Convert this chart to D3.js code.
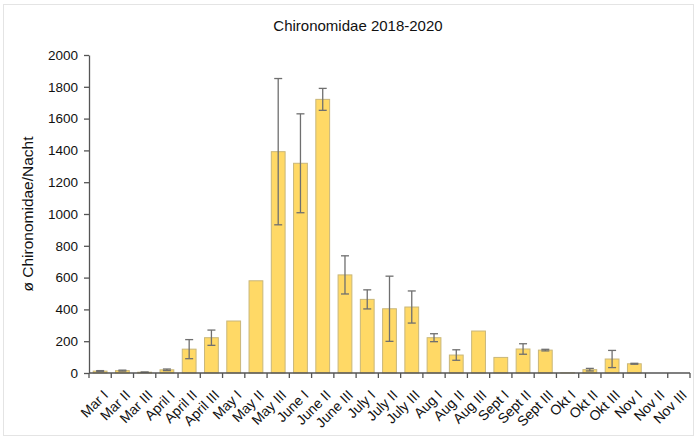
<!DOCTYPE html>
<html>
<head>
<meta charset="utf-8">
<script src="https://cdn.jsdelivr.net/npm/d3@7"></script>
<style>
  body { margin: 0; background: #fff; }
  svg { font-family: "Liberation Sans", Arial, sans-serif; }
</style>
</head>
<body>
<div id="chart"></div>
<script>
/* DATA */
const categories = ["Mar I", "Mar II", "Mar III", "April I", "April II", "April III",
  "May I", "May II", "May III", "June I", "June II", "June III",
  "July I", "July II", "July III", "Aug I", "Aug II", "Aug III",
  "Sept I", "Sept II", "Sept III", "Okt I", "Okt II", "Okt III",
  "Nov I", "Nov II", "Nov III"];
const means = [12, 15, 5, 20, 150, 222, 327, 580, 1392, 1319, 1721, 617,
  463, 404, 415, 222, 113, 264, 98, 151, 144, 1, 21, 88, 58, 0, 0];
const errors = [3, 3, 1, 5, 60, 48, 0, 0, 460, 311, 69, 120,
  60, 205, 101, 25, 33, 0, 0, 33, 5, 0, 8, 54, 3, 0, 0];
const yTicks = [0, 200, 400, 600, 800, 1000, 1200, 1400, 1600, 1800, 2000];

/* CONSTANTS */
const width = 696,
  height = 438,
  margin = { top: 55, bottom: 65, left: 89, right: 6 };

const data = categories.map((c, i) => ({ cat: c, mean: means[i], err: errors[i] }));

const svg = d3.select("#chart")
  .append("svg")
  .attr("width", width)
  .attr("height", height)

// light frame round the picture
svg.append("rect")
  .attr("x", 3.5).attr("y", 4.5)
  .attr("width", 690).attr("height", 431)
  .attr("fill", "none")
  .attr("stroke", "#e4e4e4")

//SCALES
const xScale = d3.scaleBand()
  .domain(categories)
  .range([margin.left, width - margin.right])
  .paddingInner(0.38)
  .paddingOuter(0.19)

const yScale = d3.scaleLinear()
  .domain([0, 2000])
  .range([height - margin.bottom, margin.top])

//BARS
svg.selectAll("rect.bar")
  .data(data)
  .join("rect")
  .attr("class", "bar")
  .attr("x", d => xScale(d.cat))
  .attr("width", xScale.bandwidth())
  .attr("y", d => yScale(d.mean))
  .attr("height", d => yScale(0) - yScale(d.mean))
  .attr("fill", "#FFD966")
  .attr("stroke", "#c9b77a")
  .attr("stroke-width", 1)

//ERROR BARS
const errG = svg.append("g")
  .attr("stroke", "#6f6f6f")
  .attr("stroke-width", 1.3)
  .selectAll("g")
  .data(data.filter(d => d.err > 0))
  .join("g")
  .attr("transform", d => `translate(${xScale(d.cat) + xScale.bandwidth() / 2},0)`)

errG.append("line")
  .attr("y1", d => yScale(d.mean + d.err))
  .attr("y2", d => yScale(Math.max(0, d.mean - d.err)))
errG.append("line")
  .attr("x1", -4).attr("x2", 4)
  .attr("y1", d => yScale(d.mean + d.err))
  .attr("y2", d => yScale(d.mean + d.err))
errG.append("line")
  .attr("x1", -4).attr("x2", 4)
  .attr("y1", d => yScale(Math.max(0, d.mean - d.err)))
  .attr("y2", d => yScale(Math.max(0, d.mean - d.err)))

//AXES
const yAxis = d3.axisLeft(yScale)
  .tickValues(yTicks)
  .tickFormat(d3.format("d"))
  .tickSize(5)
  .tickPadding(6)
  .tickSizeOuter(0)

const yAxisGroup = svg.append("g")
  .attr("transform", `translate(${margin.left}, 0)`)
  .call(yAxis)
yAxisGroup.selectAll("text").attr("font-size", 13.5).attr("fill", "#111")
yAxisGroup.selectAll("line, path").attr("stroke", "#555").attr("stroke-width", 1.3)

const step = xScale.step();
const xAxisGroup = svg.append("g")
  .attr("transform", `translate(0, ${yScale(0)})`)
xAxisGroup.append("line")
  .attr("x1", margin.left).attr("x2", width - margin.right)
  .attr("stroke", "#555").attr("stroke-width", 1.3)
xAxisGroup.selectAll("line.tick")
  .data(d3.range(categories.length + 1))
  .join("line")
  .attr("class", "tick")
  .attr("x1", i => margin.left + i * step)
  .attr("x2", i => margin.left + i * step)
  .attr("y1", 0).attr("y2", 5)
  .attr("stroke", "#555").attr("stroke-width", 1.3)
xAxisGroup.selectAll("text")
  .data(categories)
  .join("text")
  .attr("transform", d => `translate(${xScale(d) + xScale.bandwidth() / 2 + 2}, 16)rotate(-45)`)
  .attr("text-anchor", "end")
  .attr("dy", "0.7em")
  .attr("font-size", 14)
  .attr("fill", "#111")
  .text(d => d)

//TITLES
svg.append("text")
  .attr("x", 358).attr("y", 31)
  .attr("text-anchor", "middle")
  .attr("font-size", 15)
  .attr("fill", "#111")
  .text("Chironomidae 2018-2020")

svg.append("text")
  .attr("transform", `translate(33, ${(yScale(0) + yScale(2000)) / 2})rotate(-90)`)
  .attr("text-anchor", "middle")
  .attr("font-size", 15.5)
  .attr("fill", "#111")
  .text("ø Chironomidae/Nacht")
</script>
</body>
</html>
